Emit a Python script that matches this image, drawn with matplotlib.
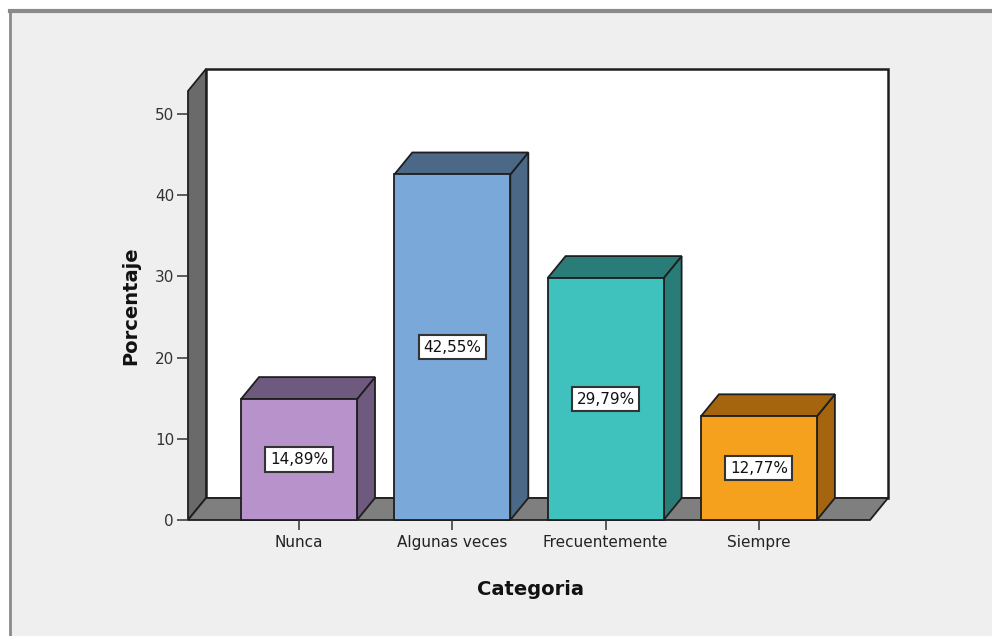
import matplotlib
matplotlib.use("Agg")
import matplotlib.pyplot as plt
from matplotlib.patches import Rectangle, Polygon
from matplotlib.lines import Line2D

# data
categorias = ["Nunca", "Algunas veces", "Frecuentemente", "Siempre"]
porcentajes = [14.89, 42.55, 29.79, 12.77]
color_frente = ["#b893cb", "#7aa8d9", "#3fc2be", "#f6a11d"]
color_oscuro = ["#6f5a7f", "#4c6887", "#2a7c78", "#a5650f"]
yticks = [0, 10, 20, 30, 40, 50]

W, H = 992, 636
fig = plt.figure(figsize=(W / 100, H / 100), dpi=100)
fig.patch.set_facecolor("white")

# gray panel with left/top border
fig.patches.append(Rectangle((10 / W, 0), 1, (H - 11) / H, transform=fig.transFigure,
                             facecolor="#efefef", edgecolor="none", zorder=-5))
fig.lines.append(Line2D([10 / W, 10 / W], [0, (H - 11) / H], transform=fig.transFigure,
                        color="#8a8a8a", lw=2, zorder=-4))
fig.lines.append(Line2D([10 / W, 1], [(H - 11) / H, (H - 11) / H], transform=fig.transFigure,
                        color="#8a8a8a", lw=3, zorder=-4))

# axes: front plane in data units, depth as offset
left, right, bottom, top = 188, 888, 520, 69
ax = fig.add_axes([left / W, (H - bottom) / H, (right - left) / W, (bottom - top) / H])
ax.set_facecolor("none")
px_cat = 153.3
px_val = 8.12
xlo = -111 / px_cat
xhi = xlo + (right - left) / px_cat
ytop = (bottom - top) / px_val
ddx = 18 / px_cat
ddy = 22 / px_val
ax.set_xlim(xlo, xhi)
ax.set_ylim(0, ytop)

ec = "#1e1e1e"
lw = 1.3
# back wall
ax.add_patch(Rectangle((xlo + ddx, ddy), xhi - xlo - ddx, ytop - ddy, facecolor="white",
                       edgecolor=ec, lw=1.8, clip_on=False))
# left wall
ax.add_patch(Polygon([(xlo, 0), (xlo + ddx, ddy), (xlo + ddx, ytop), (xlo, ytop - ddy)],
                     closed=True, facecolor="#6a6a6a", edgecolor=ec, lw=lw, clip_on=False))
# floor
ax.add_patch(Polygon([(xlo, 0), (xhi - ddx, 0), (xhi, ddy), (xlo + ddx, ddy)],
                     closed=True, facecolor="#7f7f7f", edgecolor=ec, lw=lw, clip_on=False))

w = 116 / px_cat
for i, (v, cf, co) in enumerate(zip(porcentajes, color_frente, color_oscuro)):
    x0, x1 = i - w / 2, i + w / 2
    ax.add_patch(Polygon([(x1, 0), (x1 + ddx, ddy), (x1 + ddx, v + ddy), (x1, v)],
                         closed=True, facecolor=co, edgecolor=ec, lw=lw, clip_on=False))
    ax.add_patch(Polygon([(x0, v), (x1, v), (x1 + ddx, v + ddy), (x0 + ddx, v + ddy)],
                         closed=True, facecolor=co, edgecolor=ec, lw=lw, clip_on=False))
    ax.add_patch(Rectangle((x0, 0), w, v, facecolor=cf, edgecolor=ec, lw=lw, clip_on=False))
    etiqueta = f"{v:.2f}%".replace(".", ",")
    ax.text(i, v / 2, etiqueta, ha="center", va="center", fontsize=11, color="#111111",
            bbox=dict(boxstyle="square,pad=0.3", facecolor="white", edgecolor="#333333", lw=1.5))

for s in ax.spines.values():
    s.set_visible(False)
ax.set_yticks(yticks)
ax.set_yticklabels([str(t) for t in yticks])
ax.set_xticks(range(len(categorias)))
ax.set_xticklabels(categorias)
ax.tick_params(axis="y", length=8, width=1.1, color="#333333", pad=2, labelsize=11,
               labelcolor="#333333")
ax.tick_params(axis="x", length=7, width=1.1, color="#333333", pad=4, labelsize=11,
               labelcolor="#222222")

ax.set_ylabel("Porcentaje", fontsize=14, fontweight="bold", color="#111111")
ax.yaxis.set_label_coords(-0.068, 0.475)
ax.set_xlabel("Categoria", fontsize=14, fontweight="bold", color="#111111")
ax.xaxis.set_label_coords(0.489, -0.133)

fig.savefig("out.png", dpi=100, facecolor=fig.get_facecolor())
